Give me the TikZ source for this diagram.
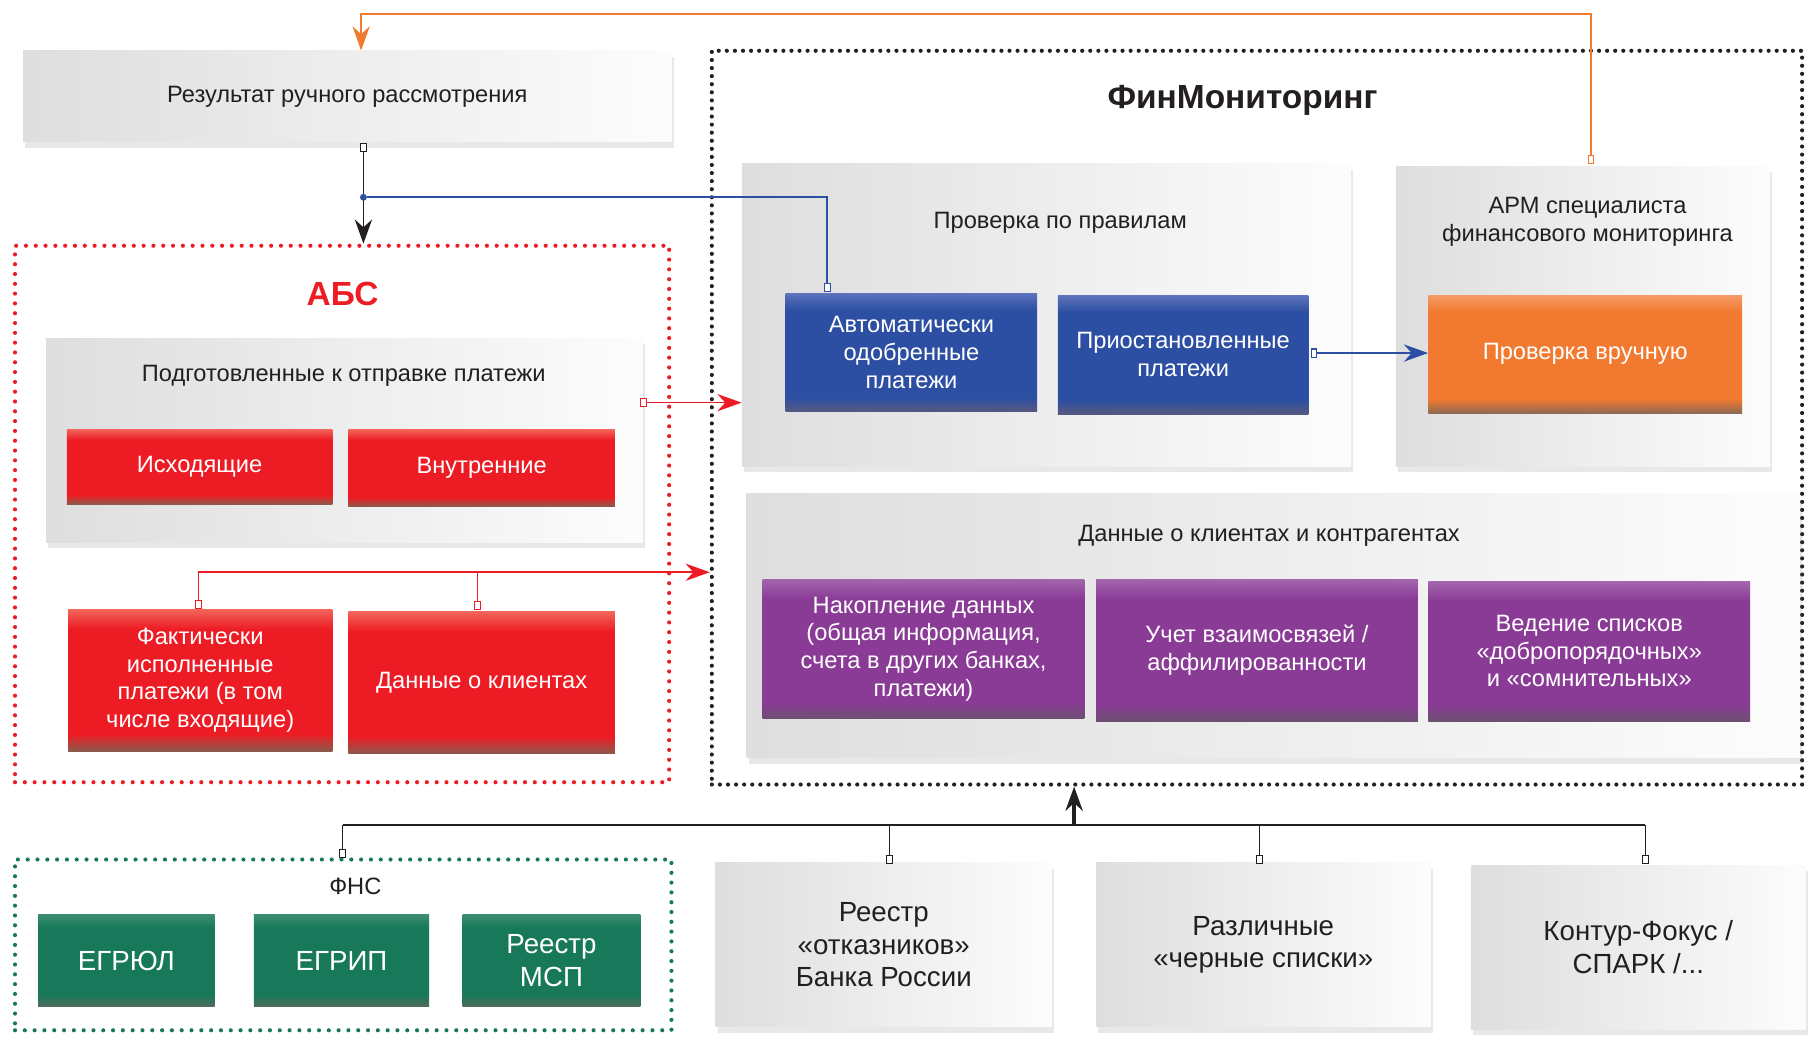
\documentclass[tikz,border=0pt]{standalone}
\usepackage{fontspec}
\setmainfont{Liberation Sans}
\usepackage{tikz}
\usetikzlibrary{arrows.meta,shadows}

\definecolor{abred}{HTML}{ED1C24}
\definecolor{redtop}{HTML}{F2655A}
\definecolor{redbot}{HTML}{8C5A4C}
\definecolor{fmblue}{HTML}{2D4FA3}
\definecolor{bluetop}{HTML}{5E74BC}
\definecolor{bluebot}{HTML}{57597E}
\definecolor{fmorange}{HTML}{F27A30}
\definecolor{orangetop}{HTML}{F59A66}
\definecolor{orangebot}{HTML}{8E6A52}
\definecolor{fmviolet}{HTML}{8A3B96}
\definecolor{violettop}{HTML}{A366AD}
\definecolor{violetbot}{HTML}{6B5070}
\definecolor{fnsgreen}{HTML}{17795A}
\definecolor{greentop}{HTML}{3C8D70}
\definecolor{greenbot}{HTML}{4F6B5C}
\definecolor{ink}{HTML}{231F20}

\newcommand{\mkshade}[4]{\pgfdeclareverticalshading{#1}{100bp}{color(0bp)=(#4); color(25bp)=(#4); color(31bp)=(#3); color(68bp)=(#3); color(75bp)=(#2); color(100bp)=(#2)}}
\mkshade{redshade}{redtop}{abred}{redbot}
\mkshade{blueshade}{bluetop}{fmblue}{bluebot}
\mkshade{orangeshade}{orangetop}{fmorange}{orangebot}
\mkshade{violetshade}{violettop}{fmviolet}{violetbot}
\mkshade{greenshade}{greentop}{fnsgreen}{greenbot}

\newcommand{\txtnorm}{\fontsize{20.5}{24}\selectfont}
\newcommand{\txtbig}{\fontsize{24}{28}\selectfont}
\newcommand{\txttitle}{\fontsize{29}{34}\selectfont\bfseries}

\tikzstyle{arrow} = [->,>={Stealth[length=21pt,width=15pt]}]
\tikzstyle{lbl} = [text=ink,font=\txtnorm,align=center,inner sep=0pt]
\tikzstyle{graybox} = [left color=black!13,right color=black!1,drop shadow={shadow xshift=2pt,shadow yshift=-5pt,opacity=0.18}]
\tikzstyle{gtext} = [text=ink,font=\txtnorm,align=center,inner sep=0pt]
\tikzstyle{colbox} = [text=white,font=\txtnorm,align=center,inner sep=0pt,shade]
\tikzstyle{redbox} = [colbox,shading=redshade]
\tikzstyle{bluebox} = [colbox,shading=blueshade]
\tikzstyle{orangebox} = [colbox,shading=orangeshade]
\tikzstyle{violetbox} = [colbox,shading=violetshade]
\tikzstyle{greenbox} = [colbox,shading=greenshade,font=\txtbig]
\tikzstyle{absframe} = [draw=abred,line width=3.6,line cap=round,dash pattern=on 0pt off 8.5pt]
\tikzstyle{fmframe} = [draw=ink,line width=3.6,line cap=round,dash pattern=on 0pt off 7pt]
\tikzstyle{fnsframe} = [draw=fnsgreen,line width=3.6,line cap=round,dash pattern=on 0pt off 8.5pt]
\tikzstyle{oline} = [draw=fmorange,line width=1.4]
\tikzstyle{bline} = [draw=fmblue,line width=1.5]
\tikzstyle{rline} = [draw=abred,line width=1.4]
\tikzstyle{kline} = [draw=ink,line width=1.1]
\tikzstyle{sqr} = [draw,fill=white,inner sep=0pt,minimum width=5,minimum height=7,line width=0.9]

\begin{document}
\begin{tikzpicture}[x=1pt,y=-1pt]
    \useasboundingbox (0,0) rectangle (1568,903);

    \node[fmframe, minimum width=945, minimum height=636] at (1089.5,362) (fm) {};
    \node[absframe, minimum width=567, minimum height=465] at (296.5,445.5) (abs) {};
    \node[fnsframe, minimum width=569, minimum height=148] at (297.5,819) (fns) {};

    \node[text=ink, font=\txttitle] at (1077,87) (fmtitle) {ФинМониторинг};
    \node[text=abred, font=\txttitle] at (297,255) (abstitle) {АБС};
    \node[lbl] at (308,768) (fnstitle) {ФНС};

    \node[graybox, gtext, minimum width=562, minimum height=79] at (301,83.5) (res) {Результат ручного рассмотрения};

    \node[graybox, minimum width=517, minimum height=177] at (298.5,381.5) (prep) {};
    \node[lbl] at (298,326) (preptitle) {Подготовленные к отправке платежи};
    \node[redbox, minimum width=230, minimum height=65] at (173,404.5) (outp) {Исходящие};
    \node[redbox, minimum width=231, minimum height=67] at (417.5,405.5) (intp) {Внутренние};
    \node[redbox, minimum width=229, minimum height=123] at (173.5,589.5) (fact) {Фактически\\исполненные\\платежи (в том\\числе входящие)};
    \node[redbox, minimum width=231, minimum height=123] at (417.5,591.5) (cdat) {Данные о клиентах};

    \node[graybox, minimum width=528, minimum height=262] at (907,273) (rules) {};
    \node[lbl] at (919,193) (rulestitle) {Проверка по правилам};
    \node[bluebox, minimum width=218, minimum height=103] at (790,305.5) (auto) {Автоматически\\одобренные\\платежи};
    \node[bluebox, minimum width=217, minimum height=103] at (1025.5,307.5) (susp) {Приостановленные\\платежи};

    \node[graybox, minimum width=324, minimum height=260] at (1372,274) (arm) {};
    \node[lbl] at (1376,192) (armtitle) {АРМ специалиста\\финансового мониторинга};
    \node[orangebox, minimum width=272, minimum height=102] at (1374,307) (manual) {Проверка вручную};

    \node[graybox, minimum width=913, minimum height=229] at (1103.5,542.5) (clients) {};
    \node[lbl] at (1100,464) (clientstitle) {Данные о клиентах и контрагентах};
    \node[violetbox, minimum width=279, minimum height=121] at (800.5,562.5) (accum) {Накопление данных\\(общая информация,\\счета в других банках,\\платежи)};
    \node[violetbox, minimum width=279, minimum height=123] at (1089.5,563.5) (affil) {Учет взаимосвязей /\\аффилированности};
    \node[violetbox, minimum width=279, minimum height=121] at (1377.5,564.5) (lists) {Ведение списков\\«добропорядочных»\\и «сомнительных»};

    \node[greenbox, minimum width=153, minimum height=79] at (109.5,832.5) (egrul) {ЕГРЮЛ};
    \node[greenbox, minimum width=152, minimum height=79] at (296,832.5) (egrip) {ЕГРИП};
    \node[greenbox, minimum width=154, minimum height=79] at (478,832.5) (msp) {Реестр\\МСП};

    \node[graybox, gtext, font=\txtbig, minimum width=292, minimum height=142] at (766,819) (refus) {Реестр\\«отказников»\\Банка России};
    \node[graybox, gtext, font=\txtbig, minimum width=290, minimum height=142] at (1095,819) (black) {Различные\\«черные списки»};
    \node[graybox, gtext, font=\txtbig, minimum width=290, minimum height=142] at (1420,821) (kontur) {Контур-Фокус /\\СПАРК /...};

    \node[sqr, draw=fmorange] at (1379,138) (sqA) {};
    \node[sqr, draw=ink] at (315,128) (sqR) {};
    \node[sqr, draw=fmblue] at (717,249) (sqB) {};
    \node[sqr, draw=fmblue] at (1139,306) (sqS) {};
    \node[sqr, draw=abred] at (558,349) (sqP) {};
    \node[sqr, draw=abred] at (172,524) (sqF) {};
    \node[sqr, draw=abred] at (414,525) (sqD) {};
    \node[sqr, draw=ink] at (297,740) (sqN) {};
    \node[sqr, draw=ink] at (771,745) (sqO) {};
    \node[sqr, draw=ink] at (1092,745) (sqC) {};
    \node[sqr, draw=ink] at (1426,745) (sqK) {};

    \coordinate (oc1) at (1379,12);
    \coordinate (oc2) at (313,12);
    \draw[oline, arrow] (sqA) -- (oc1) -- (oc2) -- (oc2 |- res.north);

    \draw[kline, arrow] (sqR) -- (sqR |- abs.north);
    \node[circle, fill=fmblue, inner sep=0pt, minimum size=6] at (315,171) (dot) {};
    \draw[bline] (dot) -| (sqB);
    \draw[bline, arrow] (sqS) -- (sqS -| manual.west);

    \draw[rline, arrow] (sqP) -- (sqP -| rules.west);
    \coordinate (rb) at (172,496);
    \draw[rline] (sqF) -- (rb);
    \draw[rline, arrow] (rb) -- (rb -| fm.west);
    \draw[rline] (sqD) -- (sqD |- rb);

    \coordinate (bl) at (297,715);
    \coordinate (br) at (1426,715);
    \coordinate (bu) at (931,715);
    \draw[draw=ink, line width=2] (bl) -- (br);
    \draw[kline] (sqN) -- (sqN |- bl);
    \draw[kline] (sqO) -- (sqO |- bl);
    \draw[kline] (sqC) -- (sqC |- bl);
    \draw[kline] (sqK) -- (sqK |- br);
    \draw[draw=ink, line width=3, arrow] (bu) -- (bu |- fm.south);

\end{tikzpicture}
\end{document}
